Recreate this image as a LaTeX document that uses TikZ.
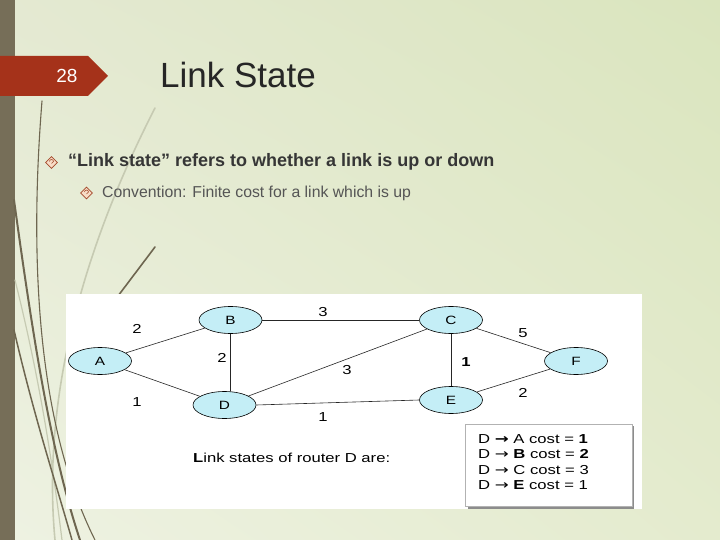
\documentclass[tikz,border=0pt]{standalone}
\usepackage{graphicx}
\usepackage{fontspec}
\setmainfont{Liberation Sans}
\newfontfamily\symfont{DejaVu Sans}
\usetikzlibrary{shapes.geometric,shadings}
\newcommand{\stretchx}[1]{\scalebox{1.28}[1]{#1}}
\definecolor{barcol}{HTML}{766E58}
\definecolor{tabcol}{HTML}{A5321A}
\definecolor{bgTL}{HTML}{E4E9D2}
\definecolor{bgTR}{HTML}{DAE5BE}
\definecolor{bgBL}{HTML}{EEF2E2}
\definecolor{bgBR}{HTML}{E4EBCE}
\definecolor{curvedark}{HTML}{6E6650}
\definecolor{curvelight}{HTML}{C6CAB2}
\definecolor{nodecyan}{HTML}{C4EEF6}
\definecolor{bulletedge}{HTML}{A4482A}
\definecolor{bulletfill}{HTML}{F7DCC6}
\definecolor{titlecol}{HTML}{262626}
\definecolor{b1col}{HTML}{363636}
\definecolor{b2col}{HTML}{555555}
\tikzset{
  router/.style={ellipse, draw=black, line width=0.6pt, fill=nodecyan,
    minimum width=63pt, minimum height=27pt, inner sep=0pt,
    font=\fontsize{12}{14}\selectfont},
  edge/.style={draw=black!85, line width=0.6pt},
  elab/.style={inner sep=0pt, font=\fontsize{13}{15}\selectfont},
  boxline/.style={anchor=west, inner sep=0pt, font=\fontsize{13}{15}\selectfont},
  bulletd/.style={diamond, draw=bulletedge, fill=bulletfill, line width=0.8pt,
    minimum width=12pt, minimum height=12pt, inner sep=0pt},
  deco/.style={draw=curvedark, line cap=round},
  decolight/.style={draw=curvelight, line cap=round}
}
\begin{document}
\begin{tikzpicture}[x=1pt,y=-1pt]
\useasboundingbox (0,0) rectangle (720,540);
% background
\shade[upper left=bgTL, upper right=bgTR, lower left=bgBL, lower right=bgBR] (0,0) rectangle (720,540);
\fill[barcol] (0,0) rectangle (15,540);
% decorative curves
\draw[decolight, line width=1.6pt] (155,108) .. controls (95,225) and (40,380) .. (55,540);
\draw[decolight, line width=1.2pt] (15,280) .. controls (40,380) and (52,460) .. (62,540);
\draw[deco, line width=1.1pt] (42,101) .. controls (30,250) and (35,420) .. (95,540);
\draw[deco, line width=2pt] (14,200) .. controls (32,330) and (50,450) .. (80,540);
\draw[deco, line width=1.5pt] (14,330) .. controls (35,420) and (55,480) .. (72,540);
\draw[deco, line width=1.6pt] (155,247) -- (115,300);
% number tab
\fill[tabcol] (0,56) -- (88,56) -- (108,76) -- (88,96) -- (0,96) -- cycle;
\node[text=white, font=\fontsize{19}{21}\selectfont] (num) at (67,76) {28};
% title
\node[anchor=west, inner sep=0pt, text=titlecol, font=\fontsize{35}{40}\selectfont] (title) at (160,75) {Link State};
% bullets
\node[bulletd] (d1) at (51.5,162.5) {};
\draw[bulletedge, line width=0.6pt] ([shift={(-2,-1)}]d1.center) arc[start angle=180, end angle=360, x radius=2pt, y radius=-2pt] -- ++(-2,2);
\node[anchor=west, inner sep=0pt, text=b1col, font=\fontsize{18}{21}\bfseries\selectfont] (t1) at (68,162) {“Link state” refers to whether a link is up or down};
\node[bulletd] (d2) at (86.5,193) {};
\draw[bulletedge, line width=0.6pt] ([shift={(-2,-1)}]d2.center) arc[start angle=180, end angle=360, x radius=2pt, y radius=-2pt] -- ++(-2,2);
\node[anchor=west, inner sep=0pt, text=b2col, font=\fontsize{15.8}{18}\selectfont] (t2) at (102,193) {Convention: Finite cost for a link which is up};
% picture area
\fill[white] (66,294) rectangle (642,509);
% graph nodes
\node[router] (A) at (100,361) {\stretchx{A}};
\node[router] (B) at (230.5,320) {\stretchx{B}};
\node[router] (C) at (451,320) {\stretchx{C}};
\node[router] (D) at (224.5,405) {\stretchx{D}};
\node[router] (E) at (451,400) {\stretchx{E}};
\node[router] (F) at (576,361) {\stretchx{F}};
% edges
\draw[edge] (A) -- (B);
\draw[edge] (A) -- (D);
\draw[edge] (B.south) -- (B.south |- D.north);
\draw[edge] (B.east) -- (C.west);
\draw[edge] (D) -- (C);
\draw[edge] (D.east) -- (E.west);
\draw[edge] (C.south) -- (C.south |- E.north);
\draw[edge] (C) -- (F);
\draw[edge] (E) -- (F);
% edge labels
\node[elab] (lab) at (137,329) {\stretchx{2}};
\node[elab] (lad) at (137,402) {\stretchx{1}};
\node[elab] (lbd) at (222,358) {\stretchx{2}};
\node[elab] (lbc) at (323,312) {\stretchx{3}};
\node[elab] (ldc) at (347,370) {\stretchx{3}};
\node[elab] (lde) at (323,417) {\stretchx{1}};
\node[elab, font=\fontsize{13}{15}\bfseries\selectfont] (lce) at (466,362) {\stretchx{1}};
\node[elab] (lcf) at (523,333) {\stretchx{5}};
\node[elab] (lef) at (523,393) {\stretchx{2}};
% caption
\node[anchor=west, inner sep=0pt, font=\fontsize{13}{15}\selectfont] (cap) at (193,458) {\stretchx{\textbf{L}ink states of router D are:}};
% box
\fill[black!45] (468,426) rectangle (634,508.5);
\draw[draw=black!30, fill=white, line width=0.6pt] (465.5,424) rectangle (632,506.5);
\node[boxline] (l1) at (478,439) {\stretchx{D {\symfont\bfseries →} A cost = \textbf{1}}};
\node[boxline] (l2) at (478,454) {\stretchx{D {\symfont →} \textbf{B} cost = \textbf{2}}};
\node[boxline] (l3) at (478,470) {\stretchx{D {\symfont →} C cost = 3}};
\node[boxline] (l4) at (478,485) {\stretchx{D {\symfont →} \textbf{E} cost = 1}};
\end{tikzpicture}
\end{document}
